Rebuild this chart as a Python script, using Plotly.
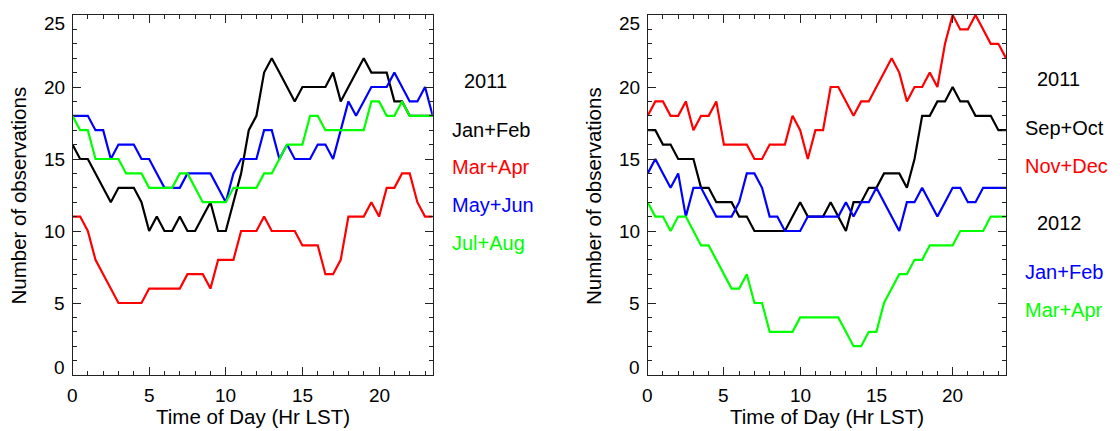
import plotly.graph_objects as go

hours = [0.0, 0.5, 1.0, 1.5, 2.0, 2.5, 3.0, 3.5, 4.0, 4.5, 5.0, 5.5, 6.0, 6.5, 7.0, 7.5,
         8.0, 8.5, 9.0, 9.5, 10.0, 10.5, 11.0, 11.5, 12.0, 12.5, 13.0, 13.5, 14.0, 14.5,
         15.0, 15.5, 16.0, 16.5, 17.0, 17.5, 18.0, 18.5, 19.0, 19.5, 20.0, 20.5, 21.0,
         21.5, 22.0, 22.5, 23.0, 23.5]

# Left panel (2011)
jan_feb_2011 = [16, 15, 15, 14, 13, 12, 13, 13, 13, 12, 10, 11, 10, 10, 11, 10, 10, 11, 12, 10,
                10, 12, 14, 17, 18, 21, 22, 21, 20, 19, 20, 20, 20, 20, 21, 19, 20, 21, 22, 21,
                21, 21, 19, 19, 18, 18, 18, 18]
mar_apr_2011 = [11, 11, 10, 8, 7, 6, 5, 5, 5, 5, 6, 6, 6, 6, 6, 7, 7, 7, 6, 8,
                8, 8, 10, 10, 10, 11, 10, 10, 10, 10, 9, 9, 9, 7, 7, 8, 11, 11, 11, 12,
                11, 13, 13, 14, 14, 12, 11, 11]
may_jun_2011 = [18, 18, 18, 17, 17, 15, 16, 16, 16, 15, 15, 14, 13, 13, 13, 14, 14, 14, 14, 13,
                12, 14, 15, 15, 15, 17, 17, 15, 16, 15, 15, 15, 16, 16, 15, 17, 19, 18, 19, 20,
                20, 20, 21, 20, 19, 19, 20, 18]
jul_aug_2011 = [18, 17, 17, 15, 15, 15, 15, 14, 14, 14, 13, 13, 13, 13, 14, 14, 13, 12, 12, 12,
                12, 13, 13, 13, 13, 14, 14, 15, 16, 16, 16, 18, 18, 17, 17, 17, 17, 17, 17, 19,
                19, 18, 18, 19, 18, 18, 18, 18]

# Right panel (2011 / 2012)
sep_oct_2011 = [17, 17, 16, 16, 15, 15, 15, 13, 13, 12, 12, 12, 11, 11, 10, 10, 10, 10, 10, 11,
                12, 11, 11, 11, 12, 11, 10, 12, 12, 13, 13, 14, 14, 14, 13, 15, 18, 18, 19, 19,
                20, 19, 19, 18, 18, 18, 17, 17]
nov_dec_2011 = [18, 19, 19, 18, 18, 19, 17, 18, 18, 19, 16, 16, 16, 16, 15, 15, 16, 16, 16, 18,
                17, 15, 17, 17, 20, 20, 19, 18, 19, 19, 20, 21, 22, 21, 19, 20, 20, 21, 20, 23,
                25, 24, 24, 25, 24, 23, 23, 22]
jan_feb_2012 = [14, 15, 14, 13, 14, 11, 13, 13, 12, 11, 11, 11, 12, 14, 14, 13, 11, 11, 10, 10,
                10, 11, 11, 11, 11, 11, 12, 11, 12, 12, 13, 12, 11, 10, 12, 12, 13, 12, 11, 12,
                13, 13, 12, 12, 13, 13, 13, 13]
mar_apr_2012 = [12, 11, 11, 10, 11, 11, 10, 9, 9, 8, 7, 6, 6, 7, 5, 5, 3, 3, 3, 3,
                4, 4, 4, 4, 4, 4, 3, 2, 2, 3, 3, 5, 6, 7, 7, 8, 8, 9, 9, 9,
                9, 10, 10, 10, 10, 11, 11, 11]

x_ticks = [0, 5, 10, 15, 20]
x_tick_labels = ["0", "5", "10", "15", "20"]
y_ticks = [0, 5, 10, 15, 20, 25]
y_tick_labels = ["0", "5", "10", "15", "20", "25"]
x_title = "Time of Day (Hr LST)"
y_title = "Number of observations"

BLACK, RED, BLUE, GREEN = "#000000", "#ff0000", "#0000ff", "#00ff00"
FONT = "Liberation Sans, Arial, Helvetica, sans-serif"
W, H = 1120, 431

fig = go.Figure()
left = [(jan_feb_2011, BLACK), (mar_apr_2011, RED), (may_jun_2011, BLUE), (jul_aug_2011, GREEN)]
right = [(sep_oct_2011, BLACK), (nov_dec_2011, RED), (jan_feb_2012, BLUE), (mar_apr_2012, GREEN)]
for ys, c in left:
    fig.add_trace(go.Scatter(x=hours, y=ys, mode="lines", line=dict(color=c, width=2.2),
                             xaxis="x", yaxis="y", showlegend=False, hoverinfo="skip"))
for ys, c in right:
    fig.add_trace(go.Scatter(x=hours, y=ys, mode="lines", line=dict(color=c, width=2.2),
                             xaxis="x2", yaxis="y2", showlegend=False, hoverinfo="skip"))

def px_x(p):
    return p / W

def px_y(p):
    return 1 - p / H

ydom = [px_y(375), px_y(15)]
xdom1 = [px_x(72.5), px_x(432.7)]
xdom2 = [px_x(647.7), px_x(1006)]

axis_common = dict(showgrid=False, zeroline=False, showline=True, linecolor="#222222",
                   linewidth=1, mirror="allticks", ticks="inside", ticklen=8,
                   tickcolor="#222222", tickwidth=1, automargin=False,
                   showticklabels=False)
xax = dict(axis_common, range=[0, 23.5], tickvals=x_ticks,
           minor=dict(dtick=1, tick0=0, ticks="inside", ticklen=4, tickcolor="#222222"))
yax = dict(axis_common, range=[0, 25], tickvals=y_ticks,
           minor=dict(dtick=1, tick0=0, ticks="inside", ticklen=4, tickcolor="#222222"))

fig.update_layout(
    width=W, height=H, margin=dict(l=0, r=0, t=0, b=0, autoexpand=False),
    paper_bgcolor="white", plot_bgcolor="white",
    font=dict(family=FONT, size=19, color="#000000"),
    xaxis=dict(xax, domain=xdom1, anchor="y"),
    yaxis=dict(yax, domain=ydom, anchor="x"),
    xaxis2=dict(xax, domain=xdom2, anchor="y2"),
    yaxis2=dict(yax, domain=ydom, anchor="x2"),
)

annots = []
# tick labels (placed through the axes' own scales)
for xref, axis_left in [("x", 72.5), ("x2", 647.7)]:
    for v, t in zip(x_ticks, x_tick_labels):
        annots.append(dict(x=v, y=px_y(395.8), xref=xref, yref="paper", text=t,
                           showarrow=False, xanchor="center", yanchor="middle",
                           font=dict(family=FONT, size=19)))
for yref, axis_left in [("y", 72.5), ("y2", 647.7)]:
    for v, t in zip(y_ticks, y_tick_labels):
        shift = -8 if v == y_ticks[-1] else (7.5 if v == y_ticks[0] else 0)
        annots.append(dict(x=px_x(axis_left - 5.5), y=v, xref="paper", yref=yref, text=t,
                           showarrow=False, xanchor="right", yanchor="middle", yshift=shift,
                           font=dict(family=FONT, size=19)))

# axis titles
for cx in [(72.5 + 432.7) / 2, (647.7 + 1006) / 2]:
    annots.append(dict(x=px_x(cx), y=px_y(416.8), xref="paper", yref="paper", text=x_title,
                       showarrow=False, xanchor="center", yanchor="middle",
                       font=dict(family=FONT, size=20.5)))
for cx in [17.5, 593]:
    annots.append(dict(x=px_x(cx), y=px_y(196), xref="paper", yref="paper", text=y_title,
                       showarrow=False, xanchor="center", yanchor="middle", textangle=-90,
                       font=dict(family=FONT, size=20.5)))

# legend-like labels
labels = [
    ("2011", BLACK, 461.5, 81), ("Jan+Feb", BLACK, 449.5, 130), ("Mar+Apr", RED, 449.5, 167),
    ("May+Jun", BLUE, 449.5, 205), ("Jul+Aug", GREEN, 449.5, 243),
    ("2011", BLACK, 1035, 79), ("Sep+Oct", BLACK, 1023, 128), ("Nov+Dec", RED, 1023, 166),
    ("2012", BLACK, 1035, 223), ("Jan+Feb", BLUE, 1023, 272), ("Mar+Apr", GREEN, 1023, 310),
]
for t, c, lx, ly in labels:
    annots.append(dict(x=px_x(lx), y=px_y(ly), xref="paper", yref="paper", text=t,
                       showarrow=False, xanchor="left", yanchor="middle",
                       font=dict(family=FONT, size=20, color=c)))
fig.update_layout(annotations=annots)

fig.write_html("out.html")
